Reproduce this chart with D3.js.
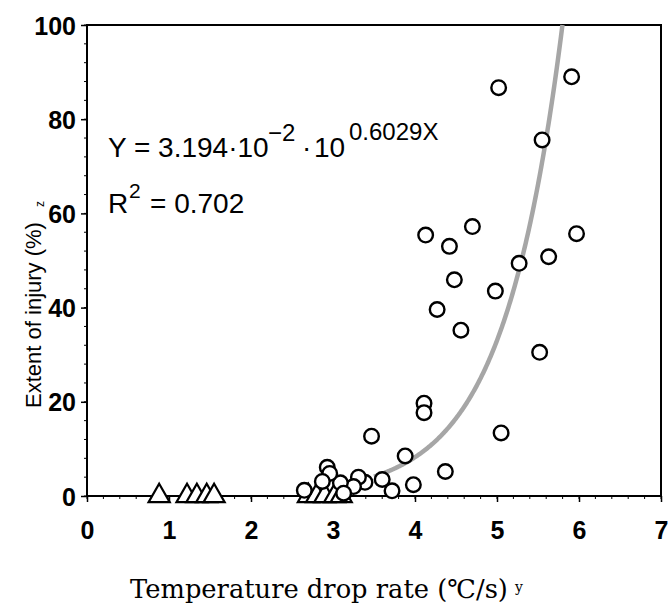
<!DOCTYPE html>
<html><head><meta charset="utf-8">
<script src="https://cdn.jsdelivr.net/npm/d3@7"></script>
<style>body{margin:0;background:#fff}svg{display:block}</style>
</head><body>
<svg id="c" width="669" height="615"></svg>
<script>
// ---- data ----
const circleX = [5.02,5.91,5.55,4.13,4.70,4.42,5.97,5.27,5.63,4.48,4.98,4.27,4.56,5.52,4.11,4.11,5.05,3.47,3.88,4.37,3.98,3.72,3.60,3.39,3.31,3.25,3.09,2.93,2.96,2.87,2.65,3.13];
const circleY = [86.7,89.0,75.6,55.4,57.2,53.0,55.7,49.4,50.8,45.9,43.5,39.6,35.2,30.5,19.7,17.7,13.4,12.7,8.5,5.2,2.4,1.1,3.5,2.9,4.0,2.0,2.8,6.1,4.8,3.1,1.2,0.6];
const triX = [0.88,1.22,1.34,1.46,1.55,2.70,2.80,2.90,3.02,3.10];
const triY = [0,0,0,0,0,0,0,0,0,0];
const xTicks = [0,1,2,3,4,5,6,7];
const yTicks = [0,20,40,60,80,100];
const fitA = 3.194e-2, fitB = 0.6029, fitStart = 3.5;

const svg = d3.select("#c");
const L = 87, R = 661, T = 25, B = 496;
const x = d3.scaleLinear().domain([0,7]).range([L,R]);
const y = d3.scaleLinear().domain([0,100]).range([B,T]);

// minor ticks
const g = svg.append("g");
g.selectAll(".mx").data(d3.range(0,7.001,0.2)).join("line")
  .attr("x1",d=>x(d)).attr("x2",d=>x(d)).attr("y1",B).attr("y2",B+3)
  .attr("stroke","#000").attr("stroke-width",1);
g.selectAll(".my").data(d3.range(0,100.001,4)).join("line")
  .attr("y1",d=>y(d)).attr("y2",d=>y(d)).attr("x1",L).attr("x2",L-3)
  .attr("stroke","#000").attr("stroke-width",1);

// axes
const xa = svg.append("g").attr("transform",`translate(0,${B})`)
  .call(d3.axisBottom(x).tickValues(xTicks).tickFormat(d3.format("d")).tickSize(6).tickPadding(19));
const ya = svg.append("g").attr("transform",`translate(${L},0)`)
  .call(d3.axisLeft(y).tickValues(yTicks).tickFormat(d3.format("d")).tickSize(6).tickPadding(5));
[xa,ya].forEach(a=>{
  a.select(".domain").remove();
  a.selectAll("line").attr("stroke","#000").attr("stroke-width",1.5);
  a.selectAll("text").attr("font-family","Liberation Sans, Arial, sans-serif")
   .attr("font-weight","bold").attr("font-size",25).attr("fill","#000");
});
ya.selectAll("text").attr("dy","0.36em");

// frame
svg.append("rect").attr("x",L).attr("y",T).attr("width",R-L).attr("height",B-T)
  .attr("fill","none").attr("stroke","#000").attr("stroke-width",2);

// fit curve
const xEnd = Math.log10(100/fitA)/fitB;
const cx = d3.range(fitStart, xEnd, 0.01).concat([xEnd]);
svg.append("path").datum(cx)
  .attr("d", d3.line().x(d=>x(d)).y(d=>y(fitA*Math.pow(10,fitB*d))))
  .attr("fill","none").attr("stroke","#a6a6a6").attr("stroke-width",4.5);

// triangles
const tri = d3.symbol().type(d3.symbolTriangle).size(193);
svg.selectAll(".tri").data(triX.map((d,i)=>[d,triY[i]])).join("path")
  .attr("d",tri).attr("transform",d=>`translate(${x(d[0])},${y(d[1])})`)
  .attr("fill","#fff").attr("stroke","#000").attr("stroke-width",2.2).attr("stroke-linejoin","miter");

// circles
svg.selectAll(".pt").data(circleX.map((d,i)=>[d,circleY[i]])).join("circle")
  .attr("cx",d=>x(d[0])).attr("cy",d=>y(d[1])).attr("r",7.3)
  .attr("fill","#fff").attr("stroke","#000").attr("stroke-width",2.4);

// equation
const sans = "Liberation Sans, Arial, sans-serif";
const eq = svg.append("text").attr("y",157).attr("font-family",sans).attr("font-size",28).attr("fill","#000");
eq.append("tspan").attr("x",108).text("Y = 3.194\u00b710");
eq.append("tspan").attr("x",268).attr("y",141).attr("font-size",24).text("\u22122");
eq.append("tspan").attr("x",302).attr("y",157).text("\u00b7");
eq.append("tspan").attr("x",314).attr("y",157).text("10");
eq.append("tspan").attr("x",349).attr("y",140).attr("font-size",24).text("0.6029X");
const r2 = svg.append("text").attr("y",213).attr("font-family",sans).attr("font-size",28).attr("fill","#000");
r2.append("tspan").attr("x",108).text("R");
r2.append("tspan").attr("x",129).attr("y",198).attr("font-size",21).text("2");
r2.append("tspan").attr("x",150).attr("y",213).text("= 0.702");

// y title
svg.append("text").attr("transform","translate(41,315) rotate(-90)").attr("text-anchor","middle")
  .attr("font-family",sans).attr("font-size",22).attr("fill","#000").text("Extent of injury (%)");
svg.append("text").attr("transform","translate(44,204) rotate(-90)").attr("text-anchor","middle")
  .attr("font-family",sans).attr("font-size",12).attr("fill","#000").text("z");

// x title
const serif = "DejaVu Serif, Liberation Serif, serif";
const xt = svg.append("text").attr("x",319).attr("y",598).attr("text-anchor","middle")
  .attr("font-family",serif).attr("font-size",22).attr("fill","#000").text("Temperature drop rate (\u2103/s)");
const w = xt.node().getComputedTextLength();
xt.attr("font-size", 22*378/w);
svg.append("text").attr("x",515).attr("y",592).attr("font-family",serif).attr("font-size",14).attr("fill","#000").text("y");
</script>
</body></html>
